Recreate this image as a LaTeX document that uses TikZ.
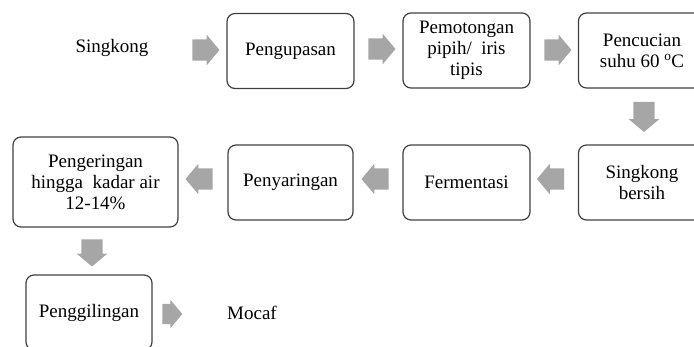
\documentclass[tikz,border=0pt]{standalone}
\usepackage{fontspec}
\setmainfont{Liberation Serif}
\usetikzlibrary{shapes.arrows}
\definecolor{boxline}{RGB}{64,64,64}
\definecolor{arrowgray}{RGB}{166,166,166}
\tikzset{
  step box/.style={
    draw=boxline,
    line width=1.2pt,
    rounded corners=8pt,
    minimum width=127pt,
    minimum height=75pt,
    inner sep=2pt,
    align=center,
    font=\fontsize{19}{21}\selectfont
  },
  step text/.style={
    inner sep=0pt,
    font=\fontsize{19}{21}\selectfont
  },
  flow arrow/.style={
    single arrow,
    fill=arrowgray,
    draw=none,
    inner sep=0pt,
    text width=0pt,
    text height=21pt,
    text depth=0pt,
    minimum height=27pt,
    single arrow head extend=4.5pt,
    single arrow tip angle=100
  }
}
\begin{document}
\begin{tikzpicture}[x=1pt,y=-1pt]
  \useasboundingbox (0,0) rectangle (694,347);
  \clip (0,0) rectangle (694,347);

  % Upper row
  \node[step text] (singkong) at (112,48) {Singkong};
  \node[step box] (kupas) at (290.5,51) {Pengupasan};
  \node[step box] (potong) at (466.5,50.5) {Pemotongan\\pipih/\ \ iris\\tipis};
  \node[step box] (cuci) at (642,50.5) {Pencucian\\suhu 60 \textsuperscript{o}C};

  \node[flow arrow] (a1) at (201.5,50) {};
  \node[flow arrow] (a2) at (377.5,49) {};
  \node[flow arrow] (a3) at (553.5,50) {};
  \node[flow arrow, rotate=-90, minimum height=30pt] (a4) at (644,112.5) {};

  % Middle row (right to left)
  \node[step box] (bersih) at (642,182.5) {Singkong\\bersih};
  \node[step box] (fermen) at (466.5,182.5) {Fermentasi};
  \node[step box, minimum width=125pt] (saring) at (290.5,182.5) {Penyaringan};
  \node[step box, minimum width=165pt, minimum height=90pt] (kering) at (95.5,182) {Pengeringan\\hingga\ \ kadar air\\12-14\%};

  \node[flow arrow, rotate=180] (a5) at (555,179) {};
  \node[flow arrow, rotate=180] (a6) at (379.5,179) {};
  \node[flow arrow, rotate=180] (a7) at (203.5,179) {};
  \node[flow arrow, rotate=-90] (a8) at (92,248.5) {};

  % Lower row
  \node[step box, minimum width=126pt] (giling) at (89,312.5) {Penggilingan};
  \node[step text] (mocaf) at (252,313) {Mocaf};
  \node[flow arrow, minimum height=20pt, text height=20pt, single arrow head extend=4pt] (a9) at (168,314) {};

\end{tikzpicture}
\end{document}
